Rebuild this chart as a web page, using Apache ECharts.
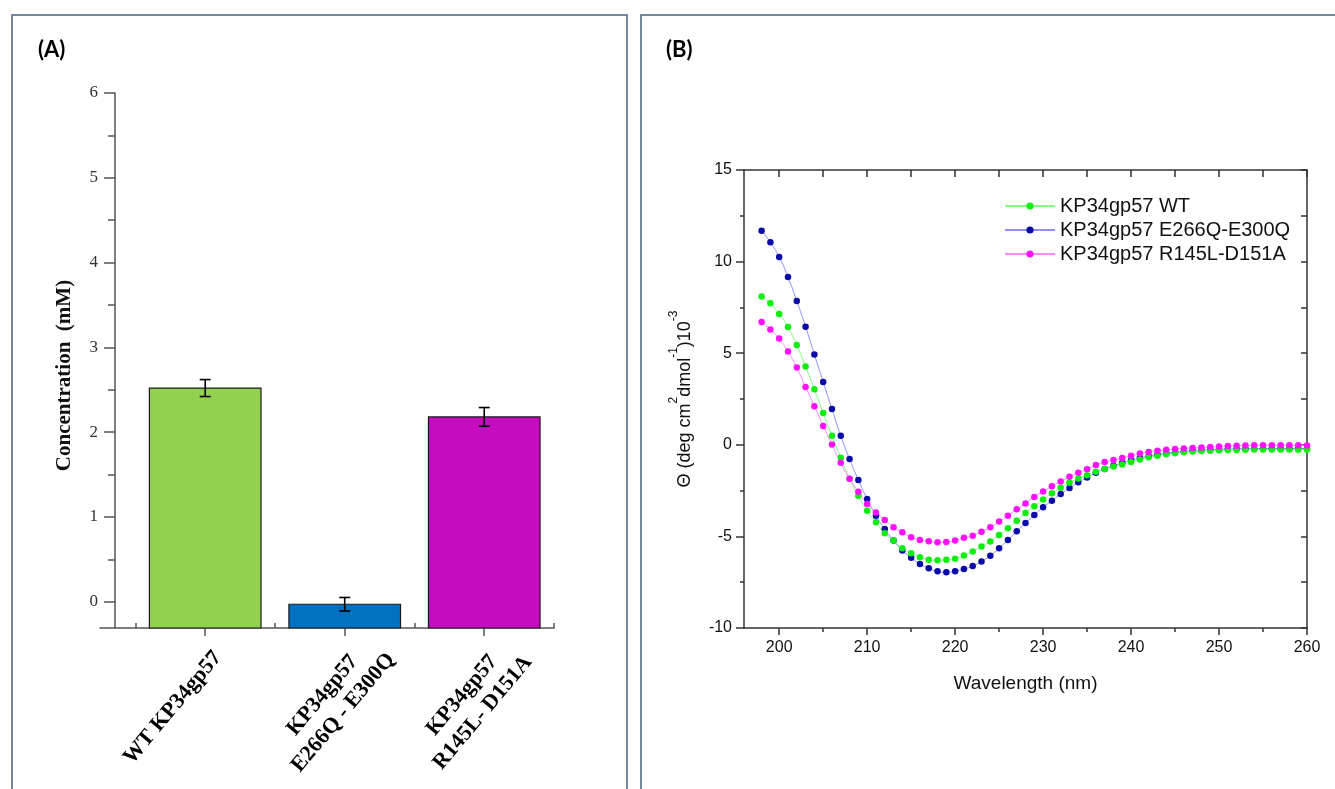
<!DOCTYPE html>
<html>
<head>
<meta charset="utf-8">
<script src="https://cdn.jsdelivr.net/npm/echarts@6/dist/echarts.min.js"></script>
<style>
  html, body { margin: 0; padding: 0; background: #fff; }
  #main { width: 1335px; height: 789px; }
</style>
</head>
<body>
<div id="main"></div>
<script>
// ---- panel A : concentration bars ----
const samples = ['WT KP34gp57', 'KP34gp57\nE266Q - E300Q', 'KP34gp57\nR145L- D151A'];
const concMean = [2.52, -0.03, 2.18];
const concErr = [0.10, 0.08, 0.11];
const barColors = ['#92d050', '#0070c0', '#c60cbe'];
const concTicks = [0, 1, 2, 3, 4, 5, 6];
const concMinorTicks = [0.5, 1.5, 2.5, 3.5, 4.5, 5.5];
const concMin = -0.31;

// ---- panel B : CD spectra ----
const wavelength = [198, 199, 200, 201, 202, 203, 204, 205, 206, 207, 208, 209, 210, 211, 212, 213, 214, 215, 216, 217, 218, 219,
  220, 221, 222, 223, 224, 225, 226, 227, 228, 229, 230, 231, 232, 233, 234, 235, 236, 237, 238, 239, 240, 241, 242, 243, 244,
  245, 246, 247, 248, 249, 250, 251, 252, 253, 254, 255, 256, 257, 258, 259, 260];
const cdWT = [8.10, 7.72, 7.14, 6.43, 5.45, 4.27, 3.03, 1.74, 0.49, -0.71, -1.85, -2.78, -3.60, -4.23, -4.83, -5.23, -5.65, -5.92,
  -6.14, -6.27, -6.30, -6.28, -6.22, -6.04, -5.83, -5.55, -5.28, -4.92, -4.56, -4.14, -3.72, -3.35, -2.98, -2.65, -2.35, -2.07,
  -1.84, -1.66, -1.47, -1.32, -1.19, -1.07, -0.94, -0.80, -0.68, -0.60, -0.52, -0.46, -0.41, -0.37, -0.34, -0.32, -0.30, -0.29,
  -0.28, -0.27, -0.26, -0.26, -0.26, -0.26, -0.26, -0.27, -0.27];
const cdE266Q = [11.68, 11.06, 10.25, 9.16, 7.85, 6.45, 4.93, 3.43, 1.95, 0.49, -0.78, -1.92, -2.96, -3.87, -4.59, -5.23, -5.77,
  -6.17, -6.50, -6.74, -6.90, -6.96, -6.90, -6.78, -6.62, -6.37, -6.05, -5.65, -5.19, -4.72, -4.27, -3.83, -3.41, -3.05, -2.69,
  -2.36, -2.05, -1.78, -1.53, -1.32, -1.15, -0.98, -0.84, -0.72, -0.62, -0.53, -0.46, -0.40, -0.35, -0.31, -0.28, -0.26, -0.24,
  -0.23, -0.22, -0.21, -0.21, -0.20, -0.20, -0.20, -0.20, -0.20, -0.21];
const cdR145L = [6.70, 6.30, 5.80, 5.09, 4.22, 3.16, 2.11, 1.02, 0.02, -0.98, -1.85, -2.56, -3.23, -3.69, -4.10, -4.50, -4.78,
  -5.05, -5.19, -5.27, -5.32, -5.30, -5.23, -5.08, -4.96, -4.74, -4.50, -4.19, -3.87, -3.52, -3.20, -2.85, -2.55, -2.26, -2.00,
  -1.75, -1.53, -1.34, -1.10, -0.94, -0.83, -0.72, -0.60, -0.48, -0.39, -0.32, -0.27, -0.23, -0.20, -0.17, -0.15, -0.12, -0.09,
  -0.06, -0.05, -0.04, -0.03, -0.03, -0.03, -0.03, -0.03, -0.03, -0.04];
const cdNames = ['KP34gp57 WT', 'KP34gp57 E266Q-E300Q', 'KP34gp57 R145L-D151A'];
const wlLabels = [200, 210, 220, 230, 240, 250, 260];
const wlMinor = [205, 215, 225, 235, 245, 255];
const wlTop = [200, 205, 210, 215, 220, 225, 230, 235, 240, 245, 250, 255, 260];

const chart = echarts.init(document.getElementById('main'));

const serifA = 'Liberation Serif';
const sansB = 'Liberation Sans';
const axA = '#555';
const axB = '#333';

// bars sit on category centres 0.5, 1.5, 2.5
const barData = concMean.map((v, i) => [i + 0.5, v]);
const errData = concMean.map((v, i) => [i + 0.5, v - concErr[i], v + concErr[i]]);

// each line of a tick label is centred on the first line, which ends just past the tick
function sampleLabel(v) {
  const lines = samples[Math.round(v - 0.5)].split('\n');
  const style = lines.length > 1 ? 'k' : 'w';
  return lines.map(t => '{' + style + '|' + t + '}').join('\n');
}

function renderBar(params, api) {
  const x = api.value(0);
  const top = api.coord([x, api.value(1)]);
  const base = api.coord([x, concMin]);
  const w = api.size([0.8, 0])[0];
  return {
    type: 'rect',
    shape: { x: top[0] - w / 2, y: top[1], width: w, height: base[1] - top[1] },
    style: { fill: barColors[params.dataIndex], stroke: '#1a1a1a', lineWidth: 1.2 }
  };
}

function renderErr(params, api) {
  const x = api.value(0);
  const lo = api.coord([x, api.value(1)]);
  const hi = api.coord([x, api.value(2)]);
  const c = 5.5;
  const st = { stroke: '#000', lineWidth: 1.6 };
  return {
    type: 'group',
    children: [
      { type: 'line', shape: { x1: hi[0], y1: hi[1], x2: lo[0], y2: lo[1] }, style: st },
      { type: 'line', shape: { x1: hi[0] - c, y1: hi[1], x2: hi[0] + c, y2: hi[1] }, style: st },
      { type: 'line', shape: { x1: lo[0] - c, y1: lo[1], x2: lo[0] + c, y2: lo[1] }, style: st }
    ]
  };
}

function cdSeries(name, values, dot, line) {
  return {
    name: name,
    type: 'line',
    xAxisIndex: 2,
    yAxisIndex: 2,
    data: wavelength.map((w, i) => [w, values[i]]),
    smooth: true,
    symbol: 'circle',
    symbolSize: 6.5,
    showSymbol: true,
    itemStyle: { color: dot },
    lineStyle: { color: line, width: 1 },
    emphasis: { disabled: true }
  };
}

const labelFont = { fontFamily: serifA, fontWeight: 'bold', fontSize: 22, lineHeight: 27, color: '#000', align: 'center' };

const option = {
  animation: false,
  backgroundColor: '#fff',
  title: [
    { text: '(A)', left: 33, top: 34, textStyle: { fontFamily: 'Lato', fontWeight: 'bold', fontSize: 22, color: '#000' } },
    { text: '(B)', left: 661, top: 34, textStyle: { fontFamily: 'Lato', fontWeight: 'bold', fontSize: 22, color: '#000' } }
  ],
  graphic: [
    { type: 'rect', shape: { x: 12, y: 15, width: 615, height: 800 }, style: { fill: 'none', stroke: '#4a6080', lineWidth: 1.5 } },
    { type: 'rect', shape: { x: 641, y: 15, width: 720, height: 800 }, style: { fill: 'none', stroke: '#4a6080', lineWidth: 1.5 } }
  ],
  grid: [
    { left: 100, right: 1335 - 554, top: 93, bottom: 789 - 628, outerBoundsMode: 'none' },
    { left: 744, right: 1335 - 1307, top: 170, bottom: 789 - 628, outerBoundsMode: 'none' }
  ],
  legend: {
    data: cdNames,
    orient: 'vertical',
    left: 999,
    top: 191,
    itemWidth: 50,
    itemHeight: 9,
    itemGap: 4,
    textStyle: { fontFamily: sansB, fontSize: 20, color: '#111' }
  },
  xAxis: [
    { // A: labels + centre ticks
      gridIndex: 0, type: 'value', min: -0.254, max: 3, position: 'bottom',
      axisLine: { show: true, onZero: false, lineStyle: { color: axA, width: 1.5 } },
      axisTick: { show: true, length: 8, customValues: [0.5, 1.5, 2.5], lineStyle: { color: axA, width: 1.5 } },
      axisLabel: {
        show: true, customValues: [0.5, 1.5, 2.5], rotate: 50, margin: 20,
        align: 'right', verticalAlign: 'top',
        formatter: sampleLabel,
        rich: {
          w: Object.assign({ width: 133 }, labelFont),
          k: Object.assign({ width: 101 }, labelFont)
        }
      },
      splitLine: { show: false }
    },
    { // A: boundary ticks pointing up
      gridIndex: 0, type: 'value', min: -0.254, max: 3, position: 'bottom',
      axisLine: { show: false, onZero: false },
      axisTick: { show: true, inside: true, length: 5, customValues: [0, 1, 2, 3], lineStyle: { color: axA, width: 1.5 } },
      axisLabel: { show: false },
      splitLine: { show: false }
    },
    { // B: bottom, labelled
      gridIndex: 1, type: 'value', min: 196, max: 260, position: 'bottom',
      name: 'Wavelength (nm)', nameLocation: 'middle', nameGap: 46,
      nameTextStyle: { fontFamily: sansB, fontSize: 19, color: '#111' },
      axisLine: { show: true, onZero: false, lineStyle: { color: axB, width: 1.5 } },
      axisTick: { show: true, length: 7, customValues: wlLabels, lineStyle: { color: axB, width: 1.5 } },
      axisLabel: { show: true, customValues: wlLabels, margin: 12, fontFamily: sansB, fontSize: 16, color: '#111' },
      splitLine: { show: false }
    },
    { // B: bottom minor ticks
      gridIndex: 1, type: 'value', min: 196, max: 260, position: 'bottom',
      axisLine: { show: false, onZero: false },
      axisTick: { show: true, length: 4, customValues: wlMinor, lineStyle: { color: axB, width: 1.5 } },
      axisLabel: { show: false },
      splitLine: { show: false }
    },
    { // B: top frame
      gridIndex: 1, type: 'value', min: 196, max: 260, position: 'top',
      axisLine: { show: true, onZero: false, lineStyle: { color: axB, width: 1.5 } },
      axisTick: { show: true, inside: true, length: 7, customValues: wlTop, lineStyle: { color: axB, width: 1.5 } },
      axisLabel: { show: false },
      splitLine: { show: false }
    }
  ],
  yAxis: [
    { // A: main
      gridIndex: 0, type: 'value', min: concMin, max: 6, offset: -15, position: 'left',
      name: 'Concentration  (mM)', nameLocation: 'middle', nameGap: 40,
      nameTextStyle: { fontFamily: serifA, fontWeight: 'bold', fontSize: 21, color: '#111', padding: [0, 30, 0, 0] },
      axisLine: { show: true, onZero: false, lineStyle: { color: axA, width: 1.5 } },
      axisTick: { show: true, length: 11, customValues: concTicks, lineStyle: { color: axA, width: 1.5 } },
      axisLabel: { show: true, customValues: concTicks, margin: 17, fontFamily: serifA, fontSize: 17, color: '#333' },
      splitLine: { show: false }
    },
    { // A: minor ticks
      gridIndex: 0, type: 'value', min: concMin, max: 6, offset: -15, position: 'left',
      axisLine: { show: false, onZero: false },
      axisTick: { show: true, length: 7, customValues: concMinorTicks, lineStyle: { color: axA, width: 1.5 } },
      axisLabel: { show: false },
      splitLine: { show: false }
    },
    { // B: left
      gridIndex: 1, type: 'value', min: -10, max: 15, interval: 5, position: 'left',
      name: '{n|Θ (deg cm}{s|2}{n|dmol}{s|-1}{n|)10}{s|-3}', nameLocation: 'middle', nameGap: 50,
      nameTextStyle: {
        rich: {
          n: { fontFamily: sansB, fontSize: 18, color: '#111', lineHeight: 26, verticalAlign: 'bottom' },
          s: { fontFamily: sansB, fontSize: 12, color: '#111', lineHeight: 26, verticalAlign: 'top' }
        }
      },
      axisLine: { show: true, onZero: false, lineStyle: { color: axB, width: 1.5 } },
      axisTick: { show: true, length: 8, lineStyle: { color: axB, width: 1.5 } },
      minorTick: { show: true, splitNumber: 2, length: 4, lineStyle: { color: axB, width: 1.5 } },
      axisLabel: { show: true, margin: 12, fontFamily: sansB, fontSize: 16, color: '#111' },
      splitLine: { show: false }
    },
    { // B: right frame
      gridIndex: 1, type: 'value', min: -10, max: 15, interval: 2.5, position: 'right',
      axisLine: { show: true, onZero: false, lineStyle: { color: axB, width: 1.5 } },
      axisTick: { show: true, inside: true, length: 6, lineStyle: { color: axB, width: 1.5 } },
      axisLabel: { show: false },
      splitLine: { show: false }
    }
  ],
  series: [
    {
      type: 'custom', xAxisIndex: 0, yAxisIndex: 0,
      renderItem: renderBar, data: barData, z: 2
    },
    {
      type: 'custom', xAxisIndex: 0, yAxisIndex: 0,
      renderItem: renderErr, data: errData, z: 3
    },
    cdSeries(cdNames[1], cdE266Q, '#0a0aa8', '#8f8fff'),
    cdSeries(cdNames[0], cdWT, '#10ee10', '#80ff80'),
    cdSeries(cdNames[2], cdR145L, '#ff10ff', '#ff88ff')
  ]
};

chart.setOption(option);
</script>
</body>
</html>
